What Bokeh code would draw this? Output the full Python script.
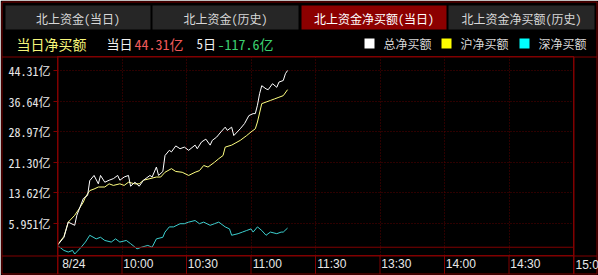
from bokeh.plotting import figure
from bokeh.models import Range1d, FixedTicker, Span
from bokeh.core.properties import value
from bokeh.embed import file_html
from bokeh.resources import INLINE

# ---------------- data (minutes after 9:30, value in 亿) ----------------
total_t = [0, 3, 5, 8, 9, 12, 14, 15, 17, 19, 20, 22, 24, 26, 28, 29, 31, 33, 34, 36, 38, 40, 43, 44,
           46, 47, 49, 50, 52, 53, 55, 57, 59, 61, 64, 65, 67, 69, 71, 72, 74, 76, 78, 79, 81, 82, 85,
           87, 89, 91, 92, 93, 94, 95, 97, 98, 100, 102, 103, 105, 106, 107]
total_v = [0.5, 2.5, 6.3, 5.5, 8.0, 12.2, 13.0, 16.7, 18.0, 15.9, 18.0, 16.3, 16.8, 17.2, 18.0, 16.8,
           17.6, 18.0, 15.3, 16.3, 15.3, 16.8, 18.0, 17.6, 20.1, 18.0, 19.0, 23.0, 24.3, 23.9, 25.4,
           24.7, 25.1, 24.3, 25.6, 24.7, 26.4, 27.1, 25.6, 26.8, 27.6, 28.9, 30.1, 29.3, 30.1, 28.0,
           29.7, 31.0, 33.0, 33.5, 33.5, 35.6, 38.5, 40.5, 39.7, 39.5, 41.0, 40.1, 41.4, 41.8, 43.5, 44.31]

sh_t = [0, 3, 5, 8, 10, 12, 13, 15, 17, 19, 22, 24, 26, 29, 31, 33, 36, 38, 40, 43, 46, 48, 50, 53,
        55, 58, 61, 64, 66, 68, 70, 73, 75, 77, 78, 81, 83, 85, 88, 90, 92, 93, 95, 97, 99, 101, 103,
        105, 107]
sh_v = [0.6, 2.7, 6.3, 8.0, 9.6, 11.3, 12.6, 14.2, 14.6, 15.1, 15.1, 15.9, 15.5, 15.9, 15.5, 16.3,
        15.9, 15.9, 16.8, 17.2, 17.6, 17.6, 18.8, 19.7, 19.0, 18.8, 18.0, 18.8, 19.2, 20.5, 20.1,
        21.3, 22.2, 23.0, 25.1, 25.6, 26.2, 26.8, 28.0, 28.9, 29.7, 31.4, 36.0, 36.4, 36.8, 37.2,
        37.6, 38.0, 39.5]

sz_t = [0, 3, 5, 7, 8, 11, 13, 15, 18, 20, 22, 25, 27, 29, 32, 34, 37, 39, 42, 44, 46, 49, 50, 52,
        54, 57, 59, 61, 64, 66, 68, 71, 73, 75, 78, 80, 81, 84, 86, 88, 90, 91, 93, 95, 97, 99, 102,
        104, 105, 107]
sz_v = [0.45, -0.8, -1.2, -0.8, -1.7, 0.0, 1.3, 3.0, 2.1, 2.5, 1.7, 1.3, 2.1, 1.3, 1.7, 0.9, -0.4,
        0.0, 0.45, 0.0, 2.1, 2.5, 3.8, 5.1, 5.1, 5.9, 5.9, 6.3, 6.7, 5.9, 6.3, 5.5, 5.9, 6.3, 5.1,
        4.6, 3.0, 3.4, 3.8, 4.2, 4.6, 3.8, 5.1, 4.2, 3.0, 3.8, 3.4, 3.8, 3.8, 4.8]

y_ticks = [5.951, 13.62, 21.30, 28.97, 36.64, 44.31]
y_tick_labels = ["5.951亿", "13.62亿", "21.30亿", "28.97亿", "36.64亿", "44.31亿"]
x_ticks = [0, 30, 60, 90, 120, 150, 180, 210, 240]
x_tick_labels = ["8/24", "10:00", "10:30", "11:00", "11:30", "13:30", "14:00", "14:30", "15:00"]

tab_names = ["北上资金(当日)", "北上资金(历史)", "北上资金净买额(当日)", "北上资金净买额(历史)"]
series_names = ["总净买额", "沪净买额", "深净买额"]
five_day_total = -117.6

# ---------------- styles ----------------
RED = "#800000"
GRID = "#5a0000"
WHITE = "#ffffff"
YELLOW = "#ffff80"
CYAN = "#3ccfcf"
CJK = "'Noto Sans Mono CJK SC', 'Noto Sans CJK SC', monospace"
LAT = "'Liberation Sans', Arial, sans-serif"

p = figure(width=598, height=275, output_backend="svg", toolbar_location=None,
           x_range=Range1d(0, 240), y_range=Range1d(-2.07, 47.82),
           min_border_left=57, min_border_right=25, min_border_top=56, min_border_bottom=20,
           background_fill_color="#000000", border_fill_color="#000000",
           outline_line_color=RED)
# pixel ranges for the decorations drawn around the plot frame
p.extra_x_ranges = {"px": Range1d(57, 573)}
p.extra_y_ranges = {"py": Range1d(255, 56)}

# y axis
yax = p.yaxis[0]
yax.ticker = FixedTicker(ticks=y_ticks)
yax.major_label_overrides = dict(zip(y_ticks, y_tick_labels))
yax.axis_line_color = RED
yax.major_tick_line_color = RED
yax.major_tick_out = 4
yax.major_tick_in = 0
yax.minor_tick_line_color = None
yax.major_label_standoff = 3
yax.major_label_text_color = "#e8e8e8"
yax.major_label_text_font = CJK
yax.major_label_text_font_size = "12px"

# x axis: labels sit right of each separator tick (last one, clipped at the edge, drawn below)
label_shift = 7.6
label_pos = [t + label_shift for t in x_ticks[:-1]]
xax = p.xaxis[0]
xax.ticker = FixedTicker(ticks=label_pos)
xax.bounds = (0, 240)
xax.major_label_overrides = dict(zip(label_pos, x_tick_labels[:-1]))
xax.axis_line_color = RED
xax.major_tick_line_color = None
xax.major_tick_out = 1
xax.major_tick_in = 0
xax.minor_tick_line_color = None
xax.minor_tick_out = 0
xax.minor_tick_in = 0
xax.major_label_standoff = 0
xax.major_label_text_color = "#e8e8e8"
xax.major_label_text_font = LAT
xax.major_label_text_font_size = "12px"

# grids
p.ygrid.ticker = FixedTicker(ticks=y_ticks)
p.ygrid.grid_line_color = GRID
p.ygrid.grid_line_dash = "1 2"
p.xgrid.ticker = FixedTicker(ticks=x_ticks[1:-1])
p.xgrid.grid_line_color = GRID
p.xgrid.grid_line_dash = "1 2"

p.add_layout(Span(location=0, dimension="width", line_color=RED, line_width=1))

# series
p.line(sz_t, sz_v, line_color=CYAN, line_width=1)
p.line(sh_t, sh_v, line_color=YELLOW, line_width=1)
p.line(total_t, total_v, line_color=WHITE, line_width=1)

# ---------------- decorations (pixel ranges, overlay level) ----------------
kw = dict(x_range_name="px", y_range_name="py", level="overlay")
tab_l = [5, 152, 301, 448]
tab_r = [150, 298, 446, 594]
tab_fill = ["#262626", "#262626", "#8c0000", "#262626"]
p.quad(left=tab_l, right=tab_r, top=[5] * 4, bottom=[29] * 4, fill_color=tab_fill,
       line_color=None, **kw)
p.text(x=[(a + b) / 2 for a, b in zip(tab_l, tab_r)], y=[17.5] * 4, text=tab_names,
       text_align="center", text_baseline="middle", text_color=["#d8d8d8", "#d8d8d8", "#ffffff", "#d8d8d8"],
       text_font=value(CJK), text_font_size="12px", **kw)

# frame lines
sx0 = [1.5, 1.5, 596.5, 1.5, 1.5, 1.5, 57.5, 573.5]
sy0 = [1.5, 1.5, 1.5, 273.5, 56.5, 255.5, 56.5, 56.5]
sx1 = [596.5, 1.5, 596.5, 596.5, 596.5, 596.5, 57.5, 573.5]
sy1 = [1.5, 273.5, 273.5, 273.5, 56.5, 255.5, 273.5, 273.5]
p.segment(x0=sx0, y0=sy0, x1=sx1, y1=sy1, line_color=RED, line_width=1, **kw)

# x label separators (at the time ticks) and the clipped last label
p.segment(x0=x_ticks, y0=[255.5] * len(x_ticks), x1=x_ticks, y1=[273.5] * len(x_ticks),
          line_color=RED, line_width=1, y_range_name="py", level="overlay")
p.text(x=[x_ticks[-1]], y=[264.5], text=[x_tick_labels[-1]], x_offset=2, text_align="left",
       text_baseline="middle", text_color="#e8e8e8", text_font=value(LAT), text_font_size="12px",
       y_range_name="py", level="overlay")

# header row
p.text(x=[16], y=[43], text=["当日净买额"], text_color="#f5f57a", text_font=value(CJK),
       text_font_size="14px", text_baseline="middle", **kw)
p.text(x=[106, 196], y=[43, 43], text=["当日", "5日"], text_color="#f0f0f0", text_font=value(CJK),
       text_font_size="13px", text_baseline="middle", **kw)
p.text(x=[134], y=[43], text=[f"{total_v[-1]:.2f}亿"], text_color="#f05a5a", text_font=value(CJK),
       text_font_size="14px", text_baseline="middle", **kw)
p.text(x=[217], y=[43], text=[f"{five_day_total:.1f}亿"], text_color="#3cd070", text_font=value(CJK),
       text_font_size="14px", text_baseline="middle", **kw)

# legend
lg_x = [364, 441, 519]
p.quad(left=lg_x, right=[x + 10 for x in lg_x], top=[38] * 3, bottom=[48] * 3,
       fill_color=["#ffffff", "#ffff00", "#00ffff"], line_color=None, **kw)
p.text(x=[x + 19 for x in lg_x], y=[43] * 3, text=series_names, text_color="#d8d8d8",
       text_font=value(CJK), text_font_size="12px", text_baseline="middle", **kw)

open("out.html", "w").write(file_html(p, INLINE))
